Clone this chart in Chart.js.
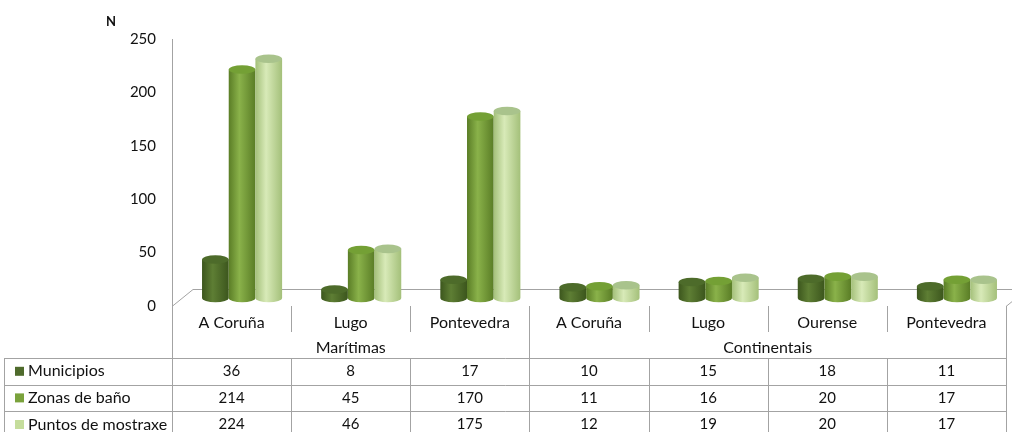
<!DOCTYPE html>
<html>
<head>
<meta charset="utf-8">
<script src="https://cdn.jsdelivr.net/npm/chart.js@4"></script>
<style>
  html, body { margin: 0; padding: 0; background: #fff; }
  #wrap { width: 1012px; height: 432px; }
</style>
</head>
<body>
<div id="wrap"><canvas id="myChart" width="1012" height="432"></canvas></div>
<script>
const provinces = ['A Coruña', 'Lugo', 'Pontevedra', 'A Coruña', 'Lugo', 'Ourense', 'Pontevedra'];
const groupNames = ['Marítimas', 'Continentais'];
const groupSpans = [3, 4];
const seriesNames = ['Municipios', 'Zonas de baño', 'Puntos de mostraxe'];
const municipios = [36, 8, 17, 10, 15, 18, 11];
const zonasBano = [214, 45, 170, 11, 16, 20, 17];
const puntosMostraxe = [224, 46, 175, 12, 19, 20, 17];
const yTicks = [0, 50, 100, 150, 200, 250];

// body gradient edge/highlight, top ellipse colour, legend colour
const shades = [
    { edge: '#3c561d', mid: '#5e7e34', top: '#4d6b2a', legend: '#4f6b2c' },
    { edge: '#5a7d26', mid: '#8ab24a', top: '#74a035', legend: '#7aa23c' },
    { edge: '#a4c07a', mid: '#d8eab8', top: '#a9c38c', legend: '#c5dd9c' }
];
const FONT = 'Lato, "Open Sans", sans-serif';
const LINE = '#a3a3a3';

const ctx = document.getElementById('myChart').getContext('2d');

function drawCylinder(c, bar, shade) {
    const w = bar.width;
    const x0 = bar.x - w / 2, x1 = bar.x + w / 2;
    const top = bar.y, base = bar.base;
    const ry = w * 0.16;
    const g = c.createLinearGradient(x0, 0, x1, 0);
    g.addColorStop(0, shade.edge);
    g.addColorStop(0.4, shade.mid);
    g.addColorStop(1, shade.edge);
    c.beginPath();
    c.moveTo(x0, top);
    c.lineTo(x0, base);
    c.ellipse(bar.x, base, w / 2, ry, 0, Math.PI, 0, true);
    c.lineTo(x1, top);
    c.closePath();
    c.fillStyle = g;
    c.fill();
    c.beginPath();
    c.ellipse(bar.x, top, w / 2, ry, 0, 0, Math.PI * 2);
    c.fillStyle = shade.top;
    c.fill();
}

const cylinders = {
    id: 'cylinders',
    beforeDatasetsDraw(chart) {
        // floor of the 3d plot
        const c = chart.ctx, a = chart.chartArea;
        c.save();
        c.strokeStyle = LINE;
        c.lineWidth = 1;
        c.beginPath();
        c.moveTo(a.left, a.bottom + 0.5);
        c.lineTo(a.left + 21, a.bottom - 16.5);
        c.lineTo(a.right + 21, a.bottom - 16.5);
        c.moveTo(a.right, a.bottom + 0.5);
        c.lineTo(a.right + 21, a.bottom - 16.5);
        c.stroke();
        c.restore();
    },
    afterDatasetsDraw(chart) {
        const c = chart.ctx;
        c.save();
        c.translate(10.5, -8);
        const metas = chart.data.datasets.map((d, i) => chart.getDatasetMeta(i));
        for (let j = 0; j < provinces.length; j++) {
            metas.forEach((m, i) => drawCylinder(c, m.data[j], shades[i]));
        }
        c.restore();
    }
};

const dataTable = {
    id: 'dataTable',
    afterDraw(chart) {
        const c = chart.ctx, a = chart.chartArea, x = chart.scales.x;
        const n = provinces.length;
        const edges = [a.left];
        for (let i = 1; i < n; i++) {
            edges.push((x.getPixelForValue(i - 1) + x.getPixelForValue(i)) / 2);
        }
        edges.push(a.right);
        const px = v => Math.round(v) + 0.5;
        const top = a.bottom, catBottom = top + 26, groupBottom = top + 52;
        const rowH = 26.6;
        const rowLines = [groupBottom, groupBottom + rowH, groupBottom + rowH * 2, groupBottom + rowH * 3];
        const bottom = rowLines[3];
        const tableLeft = 4.5;

        c.save();
        c.strokeStyle = LINE;
        c.lineWidth = 1;
        c.beginPath();
        rowLines.forEach(y => { c.moveTo(tableLeft, px(y)); c.lineTo(a.right, px(y)); });
        c.moveTo(px(a.left), top); c.lineTo(px(a.left), bottom);
        c.moveTo(px(a.right), top); c.lineTo(px(a.right), bottom);
        c.moveTo(tableLeft, groupBottom); c.lineTo(tableLeft, bottom);
        let acc = 0;
        const groupEdges = [];
        groupSpans.forEach(s => { acc += s; groupEdges.push(acc); });
        for (let i = 1; i < n; i++) {
            const ex = px(edges[i]);
            if (groupEdges.includes(i)) {
                c.moveTo(ex, top); c.lineTo(ex, bottom);
            } else {
                c.moveTo(ex, top); c.lineTo(ex, catBottom);
                c.moveTo(ex, groupBottom); c.lineTo(ex, bottom);
            }
        }
        c.stroke();

        c.fillStyle = '#111';
        c.font = '16px ' + FONT;
        c.textAlign = 'center';
        c.textBaseline = 'middle';
        provinces.forEach((p, i) => c.fillText(p, x.getPixelForValue(i), top + 17));
        let start = 0;
        groupNames.forEach((g, k) => {
            const end = start + groupSpans[k];
            c.fillText(g, (edges[start] + edges[end]) / 2, top + 42);
            start = end;
        });
        const rows = [municipios, zonasBano, puntosMostraxe];
        rows.forEach((vals, r) => {
            const cy = groupBottom + rowH * r + rowH / 2;
            c.font = '15px ' + FONT;
            c.textAlign = 'center';
            vals.forEach((v, i) => c.fillText(String(v), x.getPixelForValue(i), cy));
            c.fillStyle = shades[r].legend;
            c.fillRect(15, cy - 4.5, 9, 9);
            c.fillStyle = '#111';
            c.font = '16px ' + FONT;
            c.textAlign = 'left';
            c.fillText(seriesNames[r], 28, cy);
        });

        c.font = 'bold 13px ' + FONT;
        c.textAlign = 'center';
        c.fillText('N', 111, 22);
        c.restore();
    }
};

const myChart = new Chart(ctx, {
    type: 'bar',
    data: {
        labels: provinces,
        datasets: [
            { label: seriesNames[0], data: municipios, backgroundColor: 'rgba(0,0,0,0)' },
            { label: seriesNames[1], data: zonasBano, backgroundColor: 'rgba(0,0,0,0)' },
            { label: seriesNames[2], data: puntosMostraxe, backgroundColor: 'rgba(0,0,0,0)' }
        ]
    },
    options: {
        responsive: false,
        animation: false,
        layout: { padding: { left: 0, right: 6, top: 39, bottom: 126 } },
        datasets: {
            bar: { categoryPercentage: 0.672, barPercentage: 1 }
        },
        scales: {
            x: { display: false },
            y: {
                min: 0,
                max: 250,
                afterFit(scale) { scale.width = 172; },
                afterBuildTicks(scale) { scale.ticks = yTicks.map(v => ({ value: v })); },
                grid: { display: false, drawTicks: false },
                border: { display: true, color: LINE },
                ticks: { padding: 16, color: '#111', font: { family: FONT, size: 15 } }
            }
        },
        plugins: {
            legend: { display: false },
            tooltip: { enabled: false }
        }
    },
    plugins: [cylinders, dataTable]
});
</script>
</body>
</html>
